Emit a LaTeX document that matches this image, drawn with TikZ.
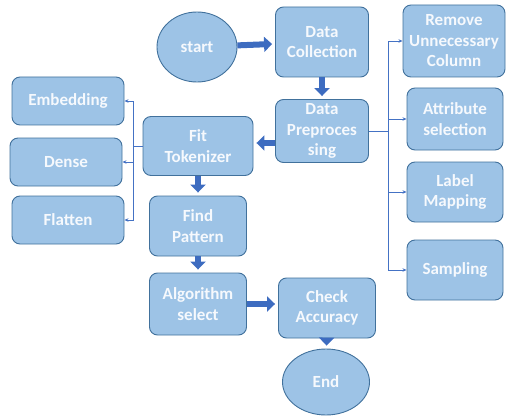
\documentclass[tikz,border=0pt]{standalone}
\usepackage{fontspec}
\setmainfont{Carlito}
\usetikzlibrary{shapes.geometric, arrows.meta, positioning, calc}
\definecolor{boxfill}{RGB}{157, 195, 230}
\definecolor{boxline}{RGB}{65, 113, 156}
\definecolor{flowblue}{RGB}{61, 108, 192}
\definecolor{linkblue}{RGB}{68, 114, 196}
\definecolor{boxtext}{RGB}{246, 249, 253}

\tikzset{
  stepbox/.style={draw=boxline, fill=boxfill, line width=0.9pt, rounded corners=8pt,
    text=boxtext, align=center, inner sep=0pt,
    font=\fontsize{17}{20.5}\selectfont\bfseries},
  endcap/.style={stepbox, ellipse},
  thickarrow/.style={draw=flowblue, line width=6pt, shorten >=3pt,
    -{Triangle[width=15pt, length=8pt]}},
  thinarrow/.style={draw=linkblue, line width=0.9pt, -{Stealth[length=4pt, width=3.5pt]}}
}

\begin{document}
\begin{tikzpicture}[x=1pt, y=1pt]
  \useasboundingbox (0, 0) rectangle (511, -417);

  % Main flow
  \node[endcap, minimum width=80, minimum height=70] (start) at (197, -47) {start};
  \node[stepbox, minimum width=93, minimum height=70] (dc) at (322, -42) {Data\\Collection};
  \node[stepbox, minimum width=93, minimum height=63] (dp) at (322, -131) {Data\\Preproces\\sing};
  \node[stepbox, minimum width=110, minimum height=59] (fit) at (198, -146) {Fit\\Tokenizer};
  \node[stepbox, minimum width=97, minimum height=60] (find) at (198, -226) {Find\\Pattern};
  \node[stepbox, minimum width=97, minimum height=62] (alg) at (198, -304) {Algorithm\\select};
  \node[stepbox, minimum width=97, minimum height=60] (chk) at (327, -308) {Check\\Accuracy};
  \node[endcap, minimum width=87, minimum height=66] (end) at (326, -382) {End};

  % Preprocessing steps
  \node[stepbox, minimum width=102, minimum height=72] (rem) at (454, -41) {Remove\\Unnecessary\\Column};
  \node[stepbox, minimum width=96, minimum height=62] (attr) at (455, -119) {Attribute\\selection};
  \node[stepbox, minimum width=96, minimum height=60] (lab) at (455, -192) {Label\\Mapping};
  \node[stepbox, minimum width=96, minimum height=60] (samp) at (455, -270) {Sampling};

  % Model layers
  \node[stepbox, minimum width=112, minimum height=48] (emb) at (68, -101) {Embedding};
  \node[stepbox, minimum width=112, minimum height=48] (dense) at (66, -162) {Dense};
  \node[stepbox, minimum width=112, minimum height=48] (flat) at (68, -220) {Flatten};

  % Branch points
  \coordinate (branchR) at (388, 0);
  \coordinate (branchL) at (133, 0);

  % Thick arrows
  \draw[thickarrow] (start) -- (dc);
  \draw[thickarrow] (dc) -- (dp);
  \draw[thickarrow] (dp.west |- 0, -143) -- (fit.east |- 0, -143);
  \draw[thickarrow] (fit) -- (find);
  \draw[thickarrow] (find) -- (alg);
  \draw[thickarrow] (alg) -- (alg -| chk.west);
  \draw[thickarrow] (chk) -- (end);

  % Thin branches
  \foreach \t in {rem, attr, lab, samp}
    \draw[thinarrow] (dp.east) -- (dp.east -| branchR) |- (\t.west);
  \foreach \t in {emb, dense, flat}
    \draw[thinarrow] (fit.west) -- (fit.west -| branchL) |- (\t.east);
\end{tikzpicture}
\end{document}
